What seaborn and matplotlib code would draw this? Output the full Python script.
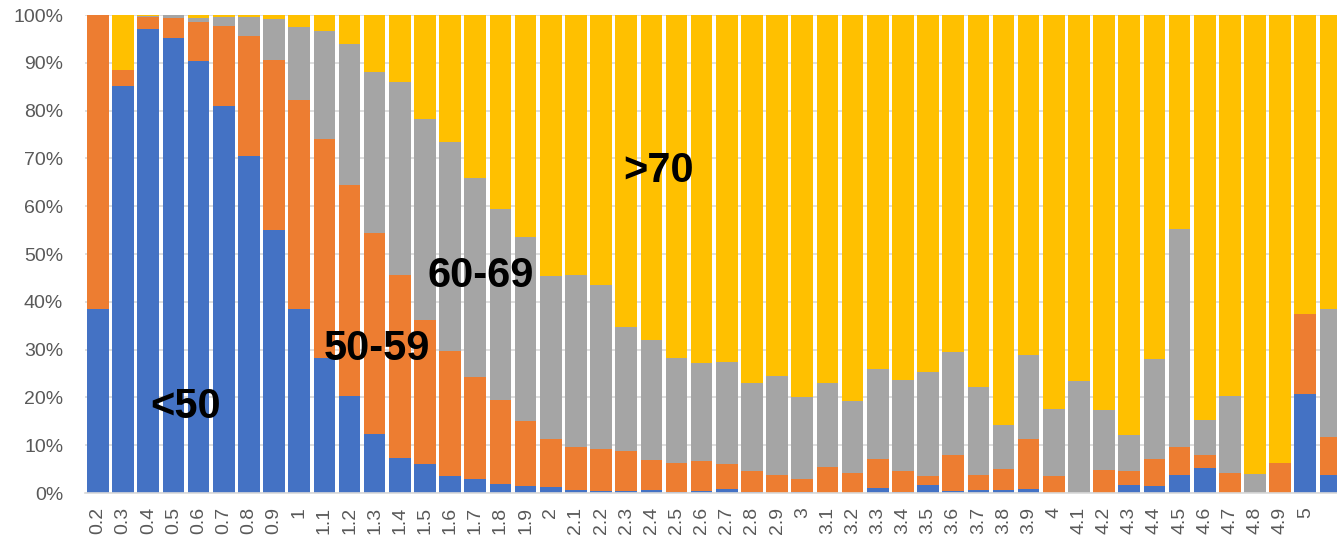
import numpy as np
import pandas as pd
import matplotlib
matplotlib.use("Agg")
import matplotlib.pyplot as plt
import seaborn as sns
from matplotlib.ticker import PercentFormatter

# categories (x axis)
categories = ["0.2", "0.3", "0.4", "0.5", "0.6", "0.7", "0.8", "0.9", "1",
              "1.1", "1.2", "1.3", "1.4", "1.5", "1.6", "1.7", "1.8", "1.9", "2",
              "2.1", "2.2", "2.3", "2.4", "2.5", "2.6", "2.7", "2.8", "2.9", "3",
              "3.1", "3.2", "3.3", "3.4", "3.5", "3.6", "3.7", "3.8", "3.9", "4",
              "4.1", "4.2", "4.3", "4.4", "4.5", "4.6", "4.7", "4.8", "4.9", "5",
              "5.1"]
tick_labels = categories[:-1] + [""]

# share of each group in percent
under_50 = [38.5, 85.2, 97.1, 95.2, 90.4, 81.0, 70.6, 55.0, 38.6,
            28.2, 20.2, 12.4, 7.4, 6.1, 3.5, 3.0, 1.8, 1.4, 1.2,
            0.6, 0.5, 0.5, 0.6, 0.3, 0.5, 0.9, 0.3, 0.0, 0.3,
            0.0, 0.0, 1.0, 0.3, 1.6, 0.4, 0.7, 0.7, 0.9, 0.0,
            0.0, 0.0, 1.7, 1.5, 3.7, 5.2, 0.0, 0.0, 0.0, 20.8,
            3.7]
g50_59 = [61.5, 3.2, 2.4, 4.2, 8.2, 16.7, 25.0, 35.6, 43.6,
          45.9, 44.3, 42.1, 38.3, 30.2, 26.2, 21.3, 17.7, 13.7, 10.2,
          9.0, 8.7, 8.3, 6.3, 6.0, 6.1, 5.1, 4.4, 3.7, 2.7,
          5.4, 4.1, 6.1, 4.3, 1.9, 7.6, 3.0, 4.4, 10.4, 3.5,
          0.0, 4.9, 3.0, 5.6, 5.9, 2.8, 4.1, 0.0, 6.3, 16.7,
          8.1]
g60_69 = [0.0, 0.0, 0.4, 0.6, 0.7, 1.9, 4.0, 8.5, 15.2,
          22.6, 29.5, 33.5, 40.3, 41.9, 43.8, 41.7, 40.0, 38.4, 33.9,
          36.1, 34.3, 25.9, 25.1, 21.9, 20.6, 21.4, 18.3, 20.8, 17.1,
          17.6, 15.1, 18.9, 19.0, 21.8, 21.6, 18.5, 9.1, 17.6, 14.0,
          23.5, 12.4, 7.4, 21.0, 45.6, 7.3, 16.3, 4.0, 0.0, 0.0,
          26.6]
over_70 = list(100 - np.array(under_50) - np.array(g50_59) - np.array(g60_69))

series_names = ["<50", "50-59", "60-69", ">70"]
colors = ["#4472C4", "#ED7D31", "#A5A5A5", "#FFC000"]

df = pd.DataFrame({"cat": categories, "<50": under_50, "50-59": g50_59,
                   "60-69": g60_69, ">70": over_70})
# cumulative tops for stacking
cum = df[series_names].cumsum(axis=1)

sns.set_style("white")
plt.rcParams["font.family"] = ["Liberation Sans", "DejaVu Sans"]

fig = plt.figure(figsize=(13.37, 5.41), dpi=100)
ax = fig.add_axes([0.0639, 0.0887, 0.9361, 0.8835])

# draw from the top segment down so each shorter bar covers the one behind
for name, col in zip(series_names[::-1], colors[::-1]):
    sns.barplot(x=df["cat"], y=cum[name], color=col, saturation=1,
                width=0.86, ax=ax, order=categories, zorder=2,
                edgecolor=col, linewidth=0)

ax.set_ylim(0, 100)
ax.set_xlim(-0.5, 49.26)
ax.set_yticks(np.arange(0, 101, 10))
ax.yaxis.set_major_formatter(PercentFormatter(decimals=0))
ax.set_xticks(range(len(categories)))
ax.set_xticklabels(tick_labels, rotation=90)
ax.set_xlabel("")
ax.set_ylabel("")
ax.grid(axis="y", color="#D9D9D9", linewidth=1.2, zorder=0)
ax.set_axisbelow(True)
for s in ["top", "right", "left"]:
    ax.spines[s].set_visible(False)
ax.spines["bottom"].set_color("#D9D9D9")
ax.spines["bottom"].set_linewidth(1.2)
ax.tick_params(axis="y", length=0, pad=16, labelsize=14, labelcolor="#595959")
ax.tick_params(axis="x", length=0, pad=10, labelsize=14, labelcolor="#595959")

# group labels inside the chart
label_pos = {"<50": (3.5, 15.7), "50-59": (11.07, 27.8),
             "60-69": (15.23, 43.1), ">70": (22.3, 65.1)}
for name, (xp, yp) in label_pos.items():
    ax.text(xp, yp, name, ha="center", va="baseline", fontsize=30,
            fontweight="bold", color="black", zorder=5)

fig.savefig("out.png", dpi=100)
